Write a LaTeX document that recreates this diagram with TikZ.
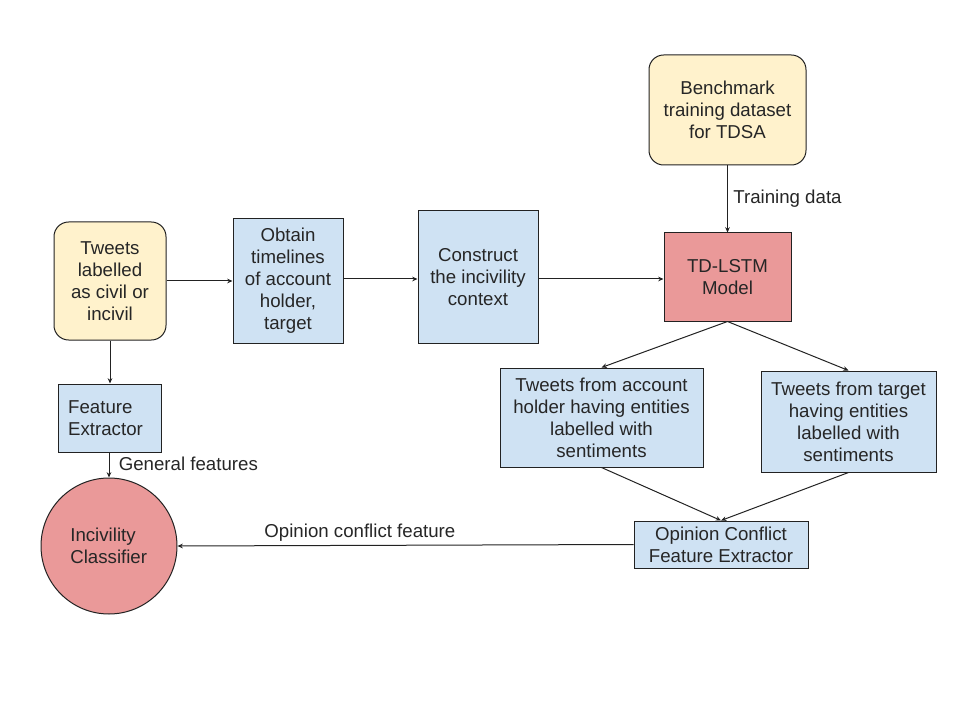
\documentclass[tikz,border=0pt]{standalone}
\usepackage{fontspec}
\setmainfont{Liberation Sans}
\usetikzlibrary{arrows.meta}
\definecolor{yel}{HTML}{FFF2CC}
\definecolor{blu}{HTML}{CFE2F3}
\definecolor{rd}{HTML}{EA9999}
\definecolor{ln}{HTML}{222222}
\begin{document}
\begin{tikzpicture}[x=0.75pt,y=-0.75pt,
  every node/.style={font=\fontsize{14}{16.5}\selectfont, text=black!85},
  base/.style={draw=ln, line width=0.75pt, inner sep=0pt, align=center},
  rbox/.style={base, fill=yel, rounded corners=11pt},
  bbox/.style={base, fill=blu},
  redbox/.style={base, fill=rd},
  arr/.style={draw=ln, line width=0.75pt, -{Stealth[length=4pt,width=3.5pt]}},
  lbl/.style={inner sep=0pt}]
\useasboundingbox (0,0) rectangle (960,720);
\node[rbox, minimum width=84pt, minimum height=88.5pt] (tw) at (110,281) {Tweets\\labelled\\as civil or\\incivil};
\node[bbox, minimum width=82.5pt, minimum height=93pt] (ob) at (288,281) {Obtain\\timelines\\of account\\holder,\\target};
\node[bbox, minimum width=90pt, minimum height=99pt] (co) at (478,277) {Construct\\the incivility\\context};
\node[redbox, minimum width=95.25pt, minimum height=66pt] (td) at (727.5,277) {TD-LSTM\\Model};
\node[rbox, minimum width=117.75pt, minimum height=82.5pt] (bm) at (727.5,110) {Benchmark\\training dataset\\for TDSA};
\node[bbox, minimum width=77.25pt, minimum height=51pt, align=left, text width=62pt] (fe) at (109.5,418) {Feature\\Extractor};
\node[base, circle, fill=rd, minimum size=102pt, align=left, text width=58pt] (cl) at (109,546) {Incivility\\Classifier};
\node[bbox, minimum width=152.25pt, minimum height=74.25pt] (ah) at (601.5,417.5) {Tweets from account\\holder having entities\\labelled with\\sentiments};
\node[bbox, minimum width=131.25pt, minimum height=75.75pt] (tg) at (848.5,421.5) {Tweets from target\\having entities\\labelled with\\sentiments};
\node[bbox, minimum width=130.5pt, minimum height=35.25pt] (oc) at (721,544.5) {Opinion Conflict\\Feature Extractor};
\draw[arr] (tw.east) -- (ob.west |- tw.east);
\draw[arr] (ob.east |- 0,279) -- (co.west |- 0,279);
\draw[arr] (co.east |- 0,279) -- (td.west |- 0,279);
\draw[arr] (bm.south) -- (td.north) node[lbl, midway, right=4pt] (lt) {Training data};
\draw[arr] (tw.south) -- (fe.north -| tw.south);
\draw[arr] (fe.south -| cl.north) -- (cl.north) node[lbl, pos=0.45, right=7pt] (lg) {General features};
\draw[arr] (td.south) -- (ah.north);
\draw[arr] (td.south) -- (tg.north);
\draw[arr] (ah.south) -- (oc.north);
\draw[arr] (tg.south) -- (oc.north);
\draw[arr] (oc.west) -- (cl.east) node[lbl, pos=0.6, above=3pt] (lo) {Opinion conflict feature};
\end{tikzpicture}
\end{document}
